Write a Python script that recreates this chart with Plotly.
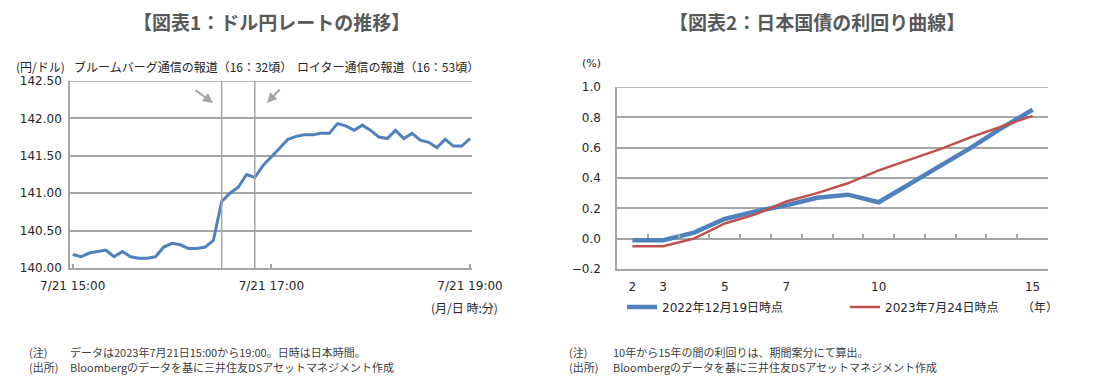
import plotly.graph_objects as go
import pandas as pd

# ---------------- Data ----------------
# Chart 1: USD/JPY, 5-minute points from 15:00 to 19:00 on 2023-07-21
fx_times = pd.date_range("2023-07-21 15:00", "2023-07-21 19:00", freq="5min")
fx_values = [140.18, 140.15, 140.20, 140.22, 140.24, 140.15, 140.22, 140.15, 140.13, 140.13,
             140.15, 140.28, 140.33, 140.31, 140.26, 140.26, 140.28, 140.37, 140.89, 141.00,
             141.08, 141.25, 141.21, 141.37, 141.48, 141.60, 141.72, 141.76, 141.78, 141.78,
             141.80, 141.80, 141.93, 141.90, 141.84, 141.91, 141.84, 141.75, 141.73, 141.84,
             141.73, 141.80, 141.71, 141.68, 141.61, 141.72, 141.63, 141.63, 141.73]
fx_tickvals = ["2023-07-21 15:00", "2023-07-21 17:00", "2023-07-21 19:00"]
fx_ticktext = ["7/21 15:00", "7/21 17:00", "7/21 19:00"]
event_times = ["2023-07-21 16:30", "2023-07-21 16:50"]
event_labels = ["ブルームバーグ通信の報道（16：32頃）", "ロイター通信の報道（16：53頃）"]

# Chart 2: JGB yield curve
maturities = [2, 3, 4, 5, 6, 7, 8, 9, 10, 11, 12, 13, 14, 15]
yield_2022 = [-0.01, -0.01, 0.04, 0.13, 0.18, 0.22, 0.27, 0.29, 0.24, 0.36, 0.48, 0.60, 0.73, 0.85]
yield_2023 = [-0.05, -0.05, 0.00, 0.10, 0.16, 0.245, 0.30, 0.365, 0.45, 0.52, 0.59, 0.67, 0.74, 0.81]
series_names = ["2022年12月19日時点", "2023年7月24日時点"]
mat_ticks = [2, 3, 5, 7, 10, 15]
mat_minor = [2.5, 3.5, 4.5, 5.5, 6.5, 7.5, 8.5, 9.5, 10.5, 11.5, 12.5, 13.5, 14.5, 15.5]

# ---------------- Style ----------------
W, H = 1099, 381
OFF = 8  # page body margin
BLUE = "#4f81bd"
RED = "#c0504d"
GRID = "#a6a6a6"
TXT = "#262626"
NUM_FONT = "DejaVu Sans, Noto Sans CJK JP"
JP_FONT = "Noto Sans CJK JP"


def px(x):
    return (x - OFF) / W


def py(y):
    return 1 - (y - OFF) / H


fig = go.Figure()

fig.add_trace(go.Scatter(x=fx_times, y=fx_values, mode="lines",
                         line=dict(color=BLUE, width=3), showlegend=False,
                         xaxis="x", yaxis="y"))
fig.add_trace(go.Scatter(x=maturities, y=yield_2022, mode="lines", name=series_names[0],
                         line=dict(color=BLUE, width=4.5), xaxis="x2", yaxis="y2"))
fig.add_trace(go.Scatter(x=maturities, y=yield_2023, mode="lines", name=series_names[1],
                         line=dict(color=RED, width=2.5), xaxis="x2", yaxis="y2"))

axis_common = dict(showgrid=False, zeroline=False, linecolor=GRID, linewidth=1.5,
                   automargin=False,
                   tickfont=dict(family=NUM_FONT, size=12, color=TXT), fixedrange=True)

fig.update_layout(
    width=W, height=H, margin=dict(l=0, r=0, t=0, b=0, autoexpand=False),
    paper_bgcolor="white", plot_bgcolor="white",
    xaxis=dict(domain=[px(70), px(472)], type="date",
               range=["2023-07-21 14:58:22", "2023-07-21 19:01:13"],
               tickvals=fx_tickvals, ticktext=fx_ticktext,
               showline=True, ticks="inside", ticklen=4, tickcolor=GRID, tickwidth=1.5,
               ticklabelstandoff=6, anchor="y",
               **axis_common),
    yaxis=dict(domain=[py(268), py(81)], range=[140, 142.5], dtick=0.5, tick0=140,
               tickformat=".2f", showline=True, ticks="", anchor="x",
               ticklabelstandoff=4,
               **{**axis_common, "showgrid": True}, gridcolor=GRID, gridwidth=1.5),
    xaxis2=dict(domain=[px(617), px(1048)], range=[1.5, 15.5],
                tickvals=mat_ticks, showline=True, ticks="", anchor="y2",
                ticklabelstandoff=6,
                **axis_common),
    xaxis3=dict(overlaying="x2", range=[1.5, 15.5], anchor="free", position=py(238),
                tickvals=mat_minor, ticks="inside", ticklen=4, tickcolor=GRID, tickwidth=1.5,
                showticklabels=False, showline=False, showgrid=False, zeroline=False,
                automargin=False, fixedrange=True),
    yaxis2=dict(domain=[py(269), py(87)], range=[-0.2, 1.0], dtick=0.2, tick0=-0.2,
                tickformat=".1f", showline=True, ticks="", anchor="x2",
                ticklabelstandoff=12,
                **{**axis_common, "showgrid": True}, gridcolor=GRID, gridwidth=1.5),
    legend=dict(orientation="h", x=px(622), y=py(307), xanchor="left", yanchor="middle",
                entrywidth=178, entrywidthmode="pixels", bgcolor="rgba(0,0,0,0)",
                font=dict(family=NUM_FONT, size=12, color=TXT), itemclick=False,
                itemdoubleclick=False, tracegroupgap=0),
    showlegend=True,
)

# invisible trace to activate the tick-mark axis on the zero line
fig.add_trace(go.Scatter(x=[maturities[0]], y=[yield_2022[0]], mode="markers",
                         marker=dict(opacity=0), showlegend=False, hoverinfo="skip",
                         xaxis="x3", yaxis="y2"))

# vertical event lines
for t in event_times:
    fig.add_shape(type="line", xref="x", yref="y domain", x0=t, x1=t, y0=0, y1=1,
                  line=dict(color=GRID, width=1.5))

# top gridlines
fig.add_shape(type="line", xref="x domain", yref="y", x0=0, x1=1, y0=142.5, y1=142.5,
              line=dict(color=GRID, width=1.5))
fig.add_shape(type="line", xref="x2 domain", yref="y2", x0=0, x1=1, y0=1.0, y1=1.0,
              line=dict(color=GRID, width=1.5))

annotations = []
annotations.append(dict(text="<b>【図表1：ドル円レートの推移】</b>", x=px(271), y=py(21),
                        font=dict(family=JP_FONT, size=19, color="#595959")))
annotations.append(dict(text="<b>【図表2：日本国債の利回り曲線】</b>", x=px(817), y=py(21),
                        font=dict(family=JP_FONT, size=19, color="#595959")))
annotations.append(dict(text="(円/ドル)", x=px(14), y=py(66), xanchor="left",
                        font=dict(family=JP_FONT, size=12, color=TXT)))
annotations.append(dict(text=event_labels[0], x=px(72), y=py(66), xanchor="left",
                        font=dict(family=JP_FONT, size=12, color=TXT)))
annotations.append(dict(text=event_labels[1], x=px(295), y=py(66), xanchor="left",
                        font=dict(family=JP_FONT, size=12, color=TXT)))
annotations.append(dict(text="(月/日 時:分)", x=px(500), y=py(307), xanchor="right",
                        font=dict(family=JP_FONT, size=12, color=TXT)))
annotations.append(dict(text="(%)", x=px(580), y=py(63), xanchor="left",
                        font=dict(family=NUM_FONT, size=11, color=TXT)))
annotations.append(dict(text="（年）", x=px(1060), y=py(306), xanchor="right",
                        font=dict(family=JP_FONT, size=12, color=TXT)))
notes = [
    (27, 352, "(注)"), (68, 352, "データは2023年7月21日15:00から19:00。日時は日本時間。"),
    (27, 367, "(出所)"), (68, 367, "Bloombergのデータを基に三井住友DSアセットマネジメント作成"),
    (567, 352, "(注)"), (611, 352, "10年から15年の間の利回りは、期間案分にて算出。"),
    (567, 367, "(出所)"), (611, 367, "Bloombergのデータを基に三井住友DSアセットマネジメント作成"),
]
for x0, y0, t in notes:
    annotations.append(dict(text=t, x=px(x0), y=py(y0), xanchor="left",
                            font=dict(family=JP_FONT, size=11, color="#404040")))

for a in annotations:
    a.setdefault("xref", "paper")
    a.setdefault("yref", "paper")
    a.setdefault("showarrow", False)
    a.setdefault("yanchor", "middle")
    a.setdefault("xanchor", "center")

# arrows pointing to the event lines
arrows = [((213, 103), (194, 89)), ((267, 103), (281, 88))]
for (hx, hy), (tx, ty) in arrows:
    annotations.append(dict(text="", x=px(hx), y=py(hy), xref="paper", yref="paper",
                            ax=tx - hx, ay=ty - hy, showarrow=True, arrowhead=2,
                            arrowsize=1, arrowwidth=2, arrowcolor="#a6a6a6"))

fig.update_layout(annotations=annotations)

fig.write_html("out.html")
